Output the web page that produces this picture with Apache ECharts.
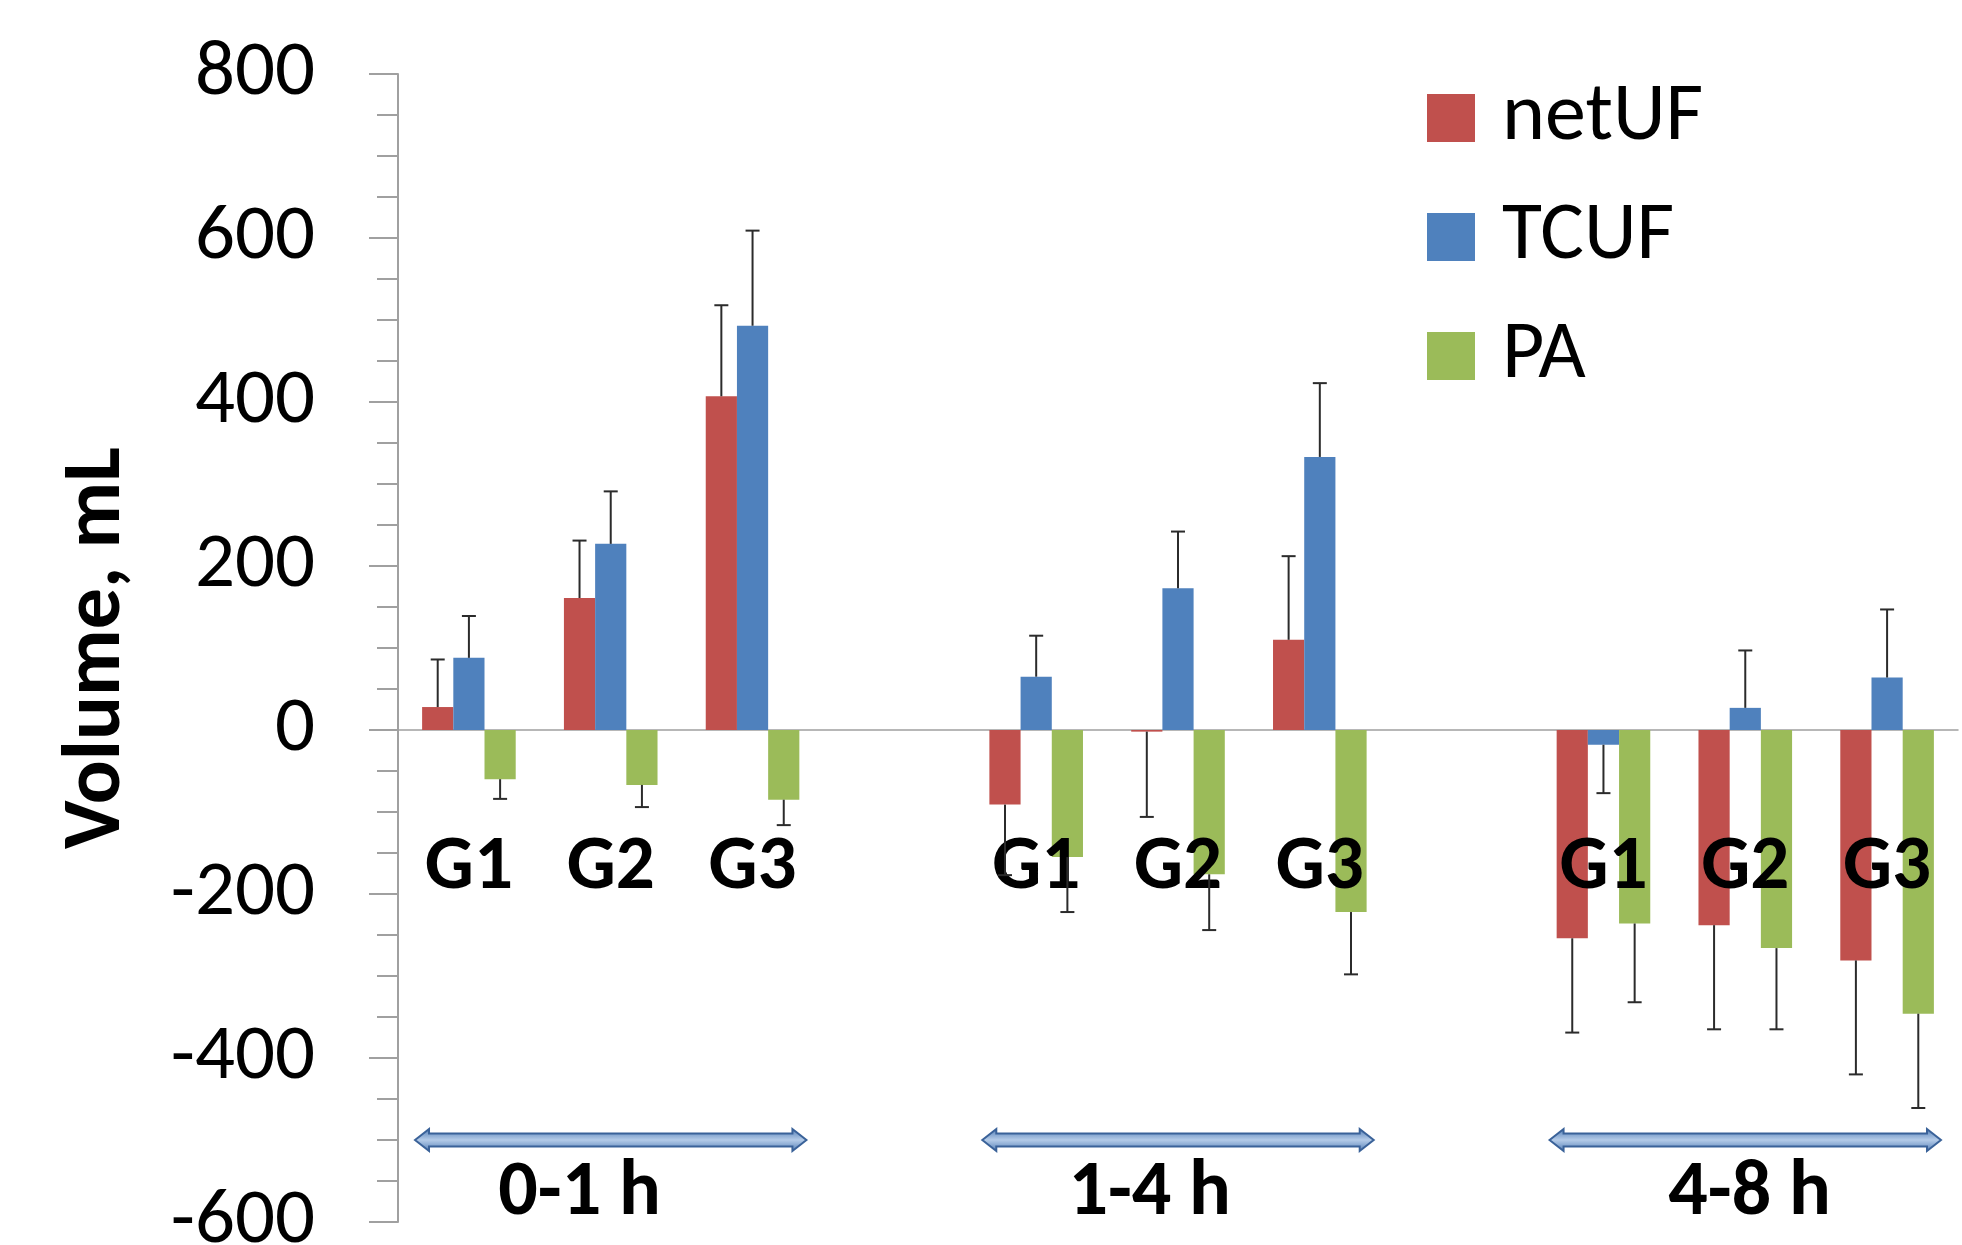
<!DOCTYPE html>
<html>
<head>
<meta charset="utf-8">
<script src="https://cdn.jsdelivr.net/npm/echarts@6/dist/echarts.min.js"></script>
<style>
  html, body { margin: 0; padding: 0; background: #ffffff; }
  #chart { width: 1962px; height: 1245px; }
</style>
</head>
<body>
<div id="chart"></div>
<script>
// ---- data ----
const categories = ['G1', 'G2', 'G3', '', 'G1', 'G2', 'G3', '', 'G1', 'G2', 'G3'];
const seriesNames = ['netUF', 'TCUF', 'PA'];
const netUF   = [28, 161, 407, null, -91, -2, 110, null, -254, -238, -281];
const TCUF    = [88, 227, 493, null, 65, 173, 333, null, -18, 27, 64];
const PA      = [-60, -67, -85, null, -155, -176, -222, null, -236, -266, -346];
const netUFsd = [58, 70, 111, null, 86, 104, 102, null, 115, 127, 139];
const TCUFsd  = [51, 64, 116, null, 50, 69, 90, null, 59, 70, 83];
const PAsd    = [24, 27, 31, null, 67, 68, 76, null, 96, 99, 115];
const yTicks = { min: -600, max: 800, interval: 200 };
const categoryLabelValue = -169;   // where the G1/G2/G3 labels sit
// time-period annotations: first and last category index of each period
const periodStart = [0, 4, 8];
const periodEnd   = [2, 6, 10];
const periodLabels = ['0-1 h', '1-4 h', '4-8 h'];
const periodLabelPos = [0.78, 4.8, 9.03]; // category position of label centre
const arrowValue = -500;
const periodLabelValue = -566;

const colors = ['#C0504D', '#4F81BD', '#9BBB59'];
const values = [netUF, TCUF, PA];
const sds = [netUFsd, TCUFsd, PAsd];
const BAR_FRAC = 0.22;

const errData = [];
values.forEach((arr, s) => {
  arr.forEach((v, i) => {
    if (v == null) return;
    const sign = v < 0 ? -1 : 1;
    errData.push([i, v, v + sign * sds[s][i], s]);
  });
});

const catLabelData = [];
categories.forEach((c, i) => { if (c) catLabelData.push([i, categoryLabelValue]); });

const arrowData = periodStart.map((st, k) => [st, periodEnd[k], arrowValue, k]);

const chart = echarts.init(document.getElementById('chart'));
const calibriLike = 'Carlito, Lato, "Open Sans", sans-serif';

const barSeries = values.map((arr, s) => ({
  name: seriesNames[s],
  type: 'bar',
  data: arr,
  barWidth: (BAR_FRAC * 100) + '%',
  barGap: '0%',
  itemStyle: { color: colors[s] },
  z: 2,
  emphasis: { disabled: true }
}));

chart.setOption({
  animation: false,
  backgroundColor: '#ffffff',
  grid: { left: 398, right: 4, top: 74, bottom: 23, outerBoundsMode: 'none', containLabel: false },
  legend: {
    data: seriesNames,
    orient: 'vertical',
    left: 1422,
    top: 72,
    itemWidth: 48,
    itemHeight: 48,
    itemGap: 37,
    icon: 'rect',
    textStyle: {
      fontFamily: calibriLike,
      fontSize: 82,
      color: '#000',
      padding: [0, 0, 0, 22]
    }
  },
  xAxis: {
    type: 'category',
    data: categories,
    axisLine: { onZero: true, lineStyle: { color: '#a0a0a0', width: 1.5 } },
    axisTick: { show: false },
    axisLabel: { show: false },
    splitLine: { show: false }
  },
  yAxis: {
    type: 'value',
    min: yTicks.min,
    max: yTicks.max,
    interval: yTicks.interval,
    name: 'Volume, mL',
    nameLocation: 'middle',
    nameRotate: 90,
    nameGap: 259,
    nameTextStyle: {
      fontFamily: calibriLike,
      fontWeight: 'bold',
      fontSize: 82,
      color: '#000'
    },
    axisLine: { show: true, lineStyle: { color: '#a0a0a0', width: 2 } },
    axisTick: { show: true, length: 29, lineStyle: { color: '#a0a0a0', width: 2 } },
    minorTick: { show: true, splitNumber: 4, length: 21, lineStyle: { color: '#a0a0a0', width: 2 } },
    axisLabel: {
      margin: 83,
      fontFamily: calibriLike,
      fontSize: 79,
      color: '#000'
    },
    splitLine: { show: false },
    minorSplitLine: { show: false }
  },
  series: barSeries.concat([
    {
      name: 'catLabels',
      type: 'custom',
      data: catLabelData,
      encode: { x: 0, y: 1 },
      z: 4,
      silent: true,
      renderItem: function (params, api) {
        const p = api.coord([api.value(0), api.value(1)]);
        return {
          type: 'text',
          x: p[0],
          y: p[1],
          style: {
            text: categories[api.value(0)],
            fontFamily: 'Carlito, Lato, sans-serif',
            fontWeight: 'bold',
            fontSize: 77,
            fill: '#000',
            align: 'center',
            verticalAlign: 'middle'
          }
        };
      }
    },
    {
      name: 'errors',
      type: 'custom',
      data: errData,
      encode: { x: 0, y: [1, 2] },
      z: 5,
      silent: true,
      renderItem: function (params, api) {
        const i = api.value(0), v = api.value(1), e = api.value(2), s = api.value(3);
        const catW = api.size([1, 0])[0];
        const bw = catW * BAR_FRAC;
        const p0 = api.coord([i, v]);
        const p1 = api.coord([i, e]);
        const x = p0[0] + (s - 1) * bw;
        const st = { stroke: '#2b2b2b', lineWidth: 2 };
        return {
          type: 'group',
          children: [
            { type: 'line', shape: { x1: x, y1: p0[1], x2: x, y2: p1[1] }, style: st },
            { type: 'line', shape: { x1: x - 7, y1: p1[1], x2: x + 7, y2: p1[1] }, style: st }
          ]
        };
      }
    },
    {
      name: 'periods',
      type: 'custom',
      data: arrowData,
      encode: { x: [0, 1], y: 2 },
      z: 4,
      silent: true,
      renderItem: function (params, api) {
        const k = api.value(3);
        const catW = api.size([1, 0])[0];
        const pad = 0.38 * catW;
        const a = api.coord([api.value(0), api.value(2)]);
        const b = api.coord([api.value(1), api.value(2)]);
        const xL = a[0] - pad, xR = b[0] + pad, yc = a[1];
        const h = 6.5, H = 11, L = 14;
        const pts = [
          [xL, yc], [xL + L, yc - H], [xL + L, yc - h], [xR - L, yc - h], [xR - L, yc - H],
          [xR, yc], [xR - L, yc + H], [xR - L, yc + h], [xL + L, yc + h], [xL + L, yc + H]
        ];
        const lp = periodLabelPos[k];
        const li = Math.round(lp);
        const lc = api.coord([li, periodLabelValue]);
        const lx = lc[0] + (lp - li) * catW;
        return {
          type: 'group',
          children: [
            {
              type: 'polygon',
              shape: { points: pts },
              style: {
                fill: new echarts.graphic.LinearGradient(0, 0, 0, 1, [
                  { offset: 0, color: '#4f7bb4' },
                  { offset: 0.5, color: '#b4cbe8' },
                  { offset: 1, color: '#4f7bb4' }
                ]),
                stroke: '#3a6299',
                lineWidth: 2
              }
            },
            {
              type: 'text',
              x: lx,
              y: lc[1],
              style: {
                text: periodLabels[k],
                fontFamily: 'Carlito, Lato, sans-serif',
                fontWeight: 'bold',
                fontSize: 78,
                fill: '#000',
                align: 'center',
                verticalAlign: 'middle'
              }
            }
          ]
        };
      }
    }
  ])
});
</script>
</body>
</html>
